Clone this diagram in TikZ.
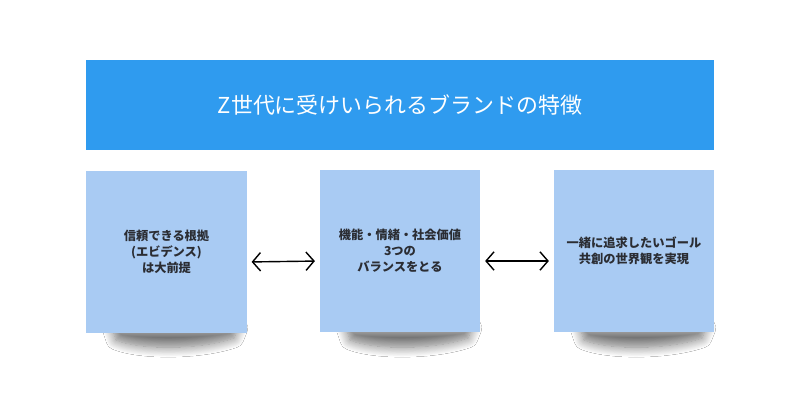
\documentclass[tikz,border=0pt]{standalone}
\usepackage{fontspec}
\setmainfont{Noto Sans CJK JP}
\usetikzlibrary{positioning,arrows.meta,shadows.blur}
\definecolor{titleblue}{HTML}{2F9BEF}
\definecolor{noteblue}{HTML}{A9CBF3}
\definecolor{notetext}{HTML}{2B2D33}

\tikzset{
	note/.style={fill=noteblue, minimum width=4cm, minimum height=4.05cm, inner sep=0pt, align=center, text=notetext, font=\bfseries\fontsize{8.7}{11.4}\selectfont},
	curl/.style={blur shadow={shadow xshift=0pt, shadow yshift=0pt, shadow blur radius=7pt, shadow blur steps=12, shadow opacity=55}},
	link/.style={{Straight Barb[length=0.2cm,width=0.46cm]}-{Straight Barb[length=0.2cm,width=0.46cm]}, line width=1pt, shorten <=0.12cm, shorten >=0.12cm}
}

\begin{document}
\begin{tikzpicture}[x=0.025cm,y=-0.025cm]
	\useasboundingbox[fill=white] (0,0) rectangle (800,419);
	% title bar
	\node[fill=titleblue, minimum width=15.7cm, minimum height=2.25cm, text=white, font=\fontsize{15.6}{18}\selectfont] (title) at (400,105) {Z世代に受けいられるブランドの特徴};
	% shadows under the notes
	\path[curl] (112,328) -- (238,328) -- (234,338) .. controls (200,350) and (140,350) .. (116,340) -- cycle;
	\path[curl] (346,328) -- (472,328) -- (468,338) .. controls (434,350) and (374,350) .. (350,340) -- cycle;
	\path[curl] (580,328) -- (706,328) -- (702,338) .. controls (668,350) and (608,350) .. (584,340) -- cycle;
	% notes
	\node[note] (trust) at (166.5,252) {信頼できる根拠\\(エビデンス)\\は大前提};
	\node[note] (value) at (400,251) {機能・情緒・社会価値\\3つの\\バランスをとる};
	\node[note] (goal) at (634,251) {一緒に追求したいゴール\\共創の世界観を実現};
	\draw[link] ([yshift=-0.25cm]trust.east) -- ([yshift=-0.25cm]value.west);
	\draw[link] ([yshift=-0.25cm]value.east) -- ([yshift=-0.25cm]goal.west);
\end{tikzpicture}
\end{document}
